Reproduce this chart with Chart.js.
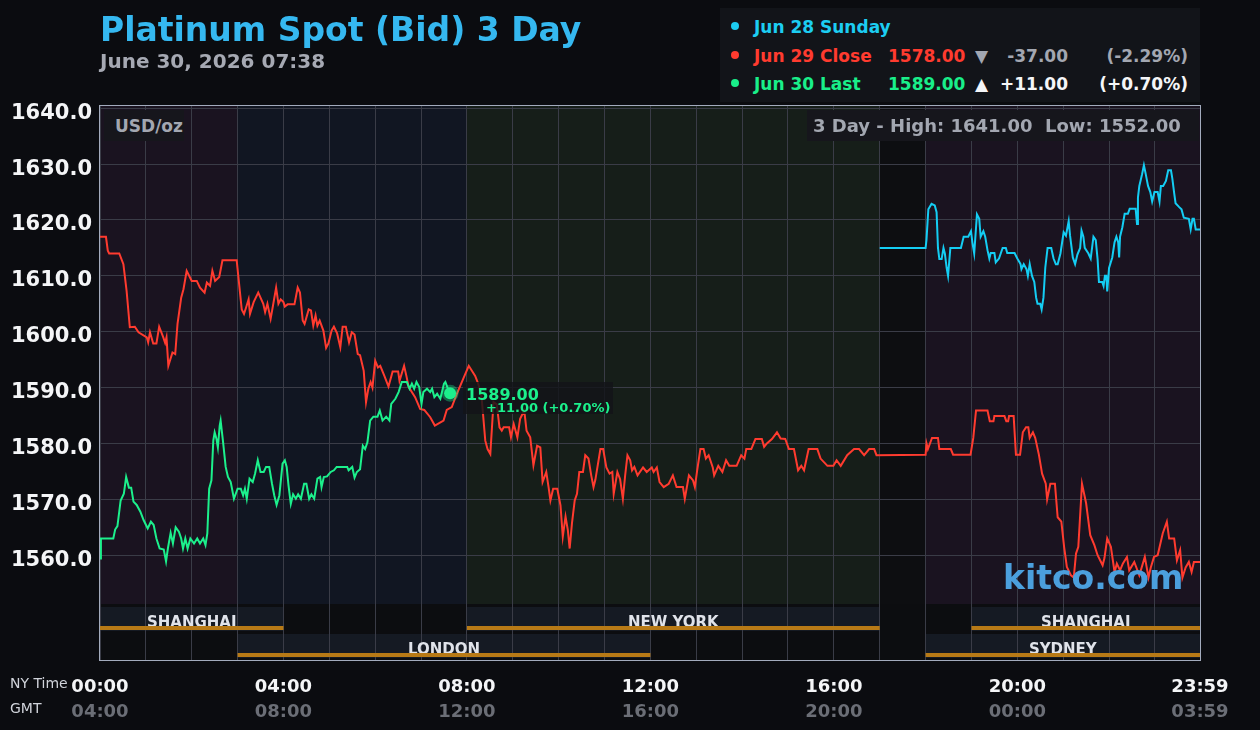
<!DOCTYPE html>
<html>
<head>
<meta charset="utf-8">
<title>Platinum Spot (Bid) 3 Day</title>
<script src="https://cdn.jsdelivr.net/npm/chart.js@4.4.1/dist/chart.umd.min.js"></script>
<style>
  html, body { margin: 0; padding: 0; background: #0b0c10; }
  body { width: 1260px; height: 730px; position: relative; overflow: hidden; font-family: "DejaVu Sans", sans-serif; }
  #chart { position: absolute; left: 0; top: 0; }
  .t { position: absolute; white-space: pre; font-weight: bold; line-height: 20px; }
  #title { left: 100px; top: 10px; font-size: 33px; line-height: 40px; color: #35b8f0; }
  #stamp { left: 100px; top: 49px; font-size: 20px; line-height: 24px; color: #a6a9b3; }
  #legend { position: absolute; left: 720px; top: 8px; width: 480px; height: 94px; background: #121419; }
  .dot { position: absolute; left: 731px; width: 8px; height: 8px; border-radius: 50%; }
  .lg { font-size: 17px; }
  .box { position: absolute; background: #16161c; }
  #unit { left: 104px; top: 110px; width: 80px; height: 31px; }
  #range { left: 807px; top: 110px; width: 392px; height: 31px; }
  .grey { color: #a3a7b1; }
  #kitco { left: 1003px; top: 558px; font-size: 33px; line-height: 40px; color: #4b9fdd; }
  .axisname { position: absolute; left: 10px; font-size: 14px; color: #d0d3da; line-height: 16px; }
  #last { position: absolute; width: 150px; height: 32px; background: rgba(18, 20, 24, 0.82); }
  #last .p { position: absolute; left: 3px; top: 3px; font-size: 16px; color: #1cf08c; }
  #last .c { position: absolute; left: 23px; top: 18px; font-size: 13px; line-height: 15px; color: #1cf08c; }
</style>
</head>
<body>
<canvas id="chart" width="1260" height="730"></canvas>

<div id="title" class="t">Platinum Spot (Bid) 3 Day</div>
<div id="stamp" class="t">June 30, 2026 07:38</div>

<div id="legend"></div>
<div class="dot" style="top:22px;background:#1ccdf2"></div>
<div class="t lg" style="left:754px;top:17px;color:#1ccdf2">Jun 28 Sunday</div>
<div class="dot" style="top:51px;background:#ff3b2f"></div>
<div class="t lg" style="left:754px;top:46px;color:#ff3b2f">Jun 29 Close</div>
<div class="t lg" style="left:888px;top:46px;color:#ff3b2f">1578.00</div>
<div class="t lg grey" style="left:975px;top:46px">▼</div>
<div class="t lg grey" style="right:192px;top:46px">-37.00</div>
<div class="t lg grey" style="right:72px;top:46px">(-2.29%)</div>
<div class="dot" style="top:79px;background:#19ef8a"></div>
<div class="t lg" style="left:754px;top:74px;color:#19ef8a">Jun 30 Last</div>
<div class="t lg" style="left:888px;top:74px;color:#19ef8a">1589.00</div>
<div class="t lg" style="left:975px;top:74px;color:#f5f6f8">▲</div>
<div class="t lg" style="right:192px;top:74px;color:#f5f6f8">+11.00</div>
<div class="t lg" style="right:72px;top:74px;color:#f5f6f8">(+0.70%)</div>

<div id="unit" class="box"></div>
<div class="t grey" style="left:115px;top:116px;font-size:17px">USD/oz</div>
<div id="range" class="box"></div>
<div class="t grey" style="left:813px;top:116px;font-size:18px">3 Day - High: 1641.00  Low: 1552.00</div>

<div id="kitco" class="t">kitco.com</div>

<div class="axisname" style="top:675px">NY Time</div>
<div class="axisname" style="top:700px">GMT</div>

<div id="last"><div class="t p">1589.00</div><div class="t c">+11.00 (+0.70%)</div></div>

<script>
// Jun 30 (today), hours after midnight NY time
const greenTimes = [0, 0.02, 0.29, 0.33, 0.38, 0.45, 0.52, 0.57, 0.63, 0.68, 0.73, 0.8, 0.88, 0.95, 1.04, 1.11, 1.17, 1.23, 1.3, 1.39,
  1.44, 1.48, 1.54, 1.59, 1.65, 1.72, 1.77, 1.81, 1.86, 1.91, 1.97, 2.05, 2.12, 2.18, 2.25, 2.3, 2.34, 2.38, 2.43, 2.47,
  2.5, 2.54, 2.57, 2.61, 2.63, 2.68, 2.74, 2.79, 2.85, 2.92, 3.0, 3.07, 3.12, 3.16, 3.2, 3.26, 3.33, 3.38, 3.44, 3.5,
  3.57, 3.62, 3.69, 3.75, 3.8, 3.85, 3.91, 3.98, 4.03, 4.07, 4.11, 4.16, 4.21, 4.27, 4.32, 4.38, 4.45, 4.5, 4.56, 4.61,
  4.67, 4.74, 4.8, 4.83, 4.88, 4.95, 5.03, 5.1, 5.16, 5.39, 5.42, 5.5, 5.55, 5.6, 5.67, 5.73, 5.78, 5.83, 5.89, 5.96,
  6.05, 6.1, 6.16, 6.24, 6.31, 6.35, 6.44, 6.51, 6.58, 6.69, 6.75, 6.8, 6.85, 6.9, 6.96, 7.01, 7.05, 7.13, 7.2, 7.24,
  7.29, 7.35, 7.42, 7.5, 7.53, 7.6, 7.633];
const greenValues = [1559.4, 1563, 1563, 1564.6, 1565.2, 1569.8, 1571, 1574, 1572.1, 1572.1, 1569.6, 1569, 1567.8, 1566.3, 1564.8, 1566, 1565.4, 1563, 1561.2, 1561,
  1558.9, 1561.2, 1564, 1562.1, 1565, 1564.2, 1563, 1561.2, 1563, 1561.2, 1563, 1562.1, 1563, 1562.1, 1563, 1561.8, 1563.9, 1571.9, 1573.4, 1580.5,
  1582, 1580.8, 1579.3, 1583.2, 1584.1, 1580.5, 1575.8, 1574, 1573.1, 1570.1, 1571.9, 1571.9, 1570.7, 1571.9, 1570.1, 1573.7, 1573.1, 1574.6, 1577, 1574.9,
  1574.9, 1575.8, 1575.8, 1572.8, 1570.7, 1569, 1570.7, 1576.4, 1577, 1575.8, 1572.5, 1569.2, 1570.9, 1570.1, 1570.9, 1570.1, 1572.8, 1572.8, 1570.1, 1570.9,
  1570.1, 1573.7, 1574, 1572.2, 1574, 1574.1, 1574.9, 1575.2, 1575.8, 1575.8, 1575.2, 1575.8, 1573.9, 1574.9, 1575.4, 1579.6, 1579, 1580.2, 1584.1, 1584.8,
  1584.8, 1585.9, 1584.1, 1584.8, 1584.1, 1587.1, 1588, 1589.2, 1591, 1591, 1589.8, 1590.7, 1589.8, 1591, 1590.1, 1587.1, 1589.2, 1589.8, 1589.2, 1589.8,
  1588.3, 1588.9, 1588, 1590.7, 1591, 1589.5, 1589];

// Jun 29
const redTimes = [0, 0.13, 0.17, 0.2, 0.42, 0.51, 0.58, 0.65, 0.76, 0.84, 1.02, 1.05, 1.09, 1.16, 1.23, 1.29, 1.38, 1.42, 1.45, 1.49,
  1.58, 1.64, 1.69, 1.77, 1.82, 1.89, 2.0, 2.11, 2.18, 2.28, 2.33, 2.4, 2.45, 2.51, 2.6, 2.67, 2.98, 3.03, 3.09, 3.14,
  3.18, 3.24, 3.27, 3.35, 3.45, 3.56, 3.6, 3.65, 3.72, 3.77, 3.84, 3.89, 3.94, 4.0, 4.03, 4.09, 4.24, 4.31, 4.36, 4.42,
  4.46, 4.55, 4.6, 4.65, 4.7, 4.74, 4.79, 4.87, 4.93, 4.98, 5.05, 5.1, 5.17, 5.24, 5.29, 5.36, 5.43, 5.49, 5.55, 5.62,
  5.67, 5.75, 5.8, 5.85, 5.9, 5.94, 6.0, 6.06, 6.11, 6.2, 6.29, 6.38, 6.5, 6.53, 6.63, 6.68, 6.73, 6.87, 6.98, 7.07,
  7.2, 7.3, 7.49, 7.56, 7.67, 7.78, 7.93, 8.04, 8.18, 8.25, 8.32, 8.4, 8.45, 8.51, 8.58, 8.65, 8.71, 8.76, 8.8, 8.92,
  8.96, 9.02, 9.1, 9.16, 9.25, 9.3, 9.38, 9.45, 9.53, 9.6, 9.65, 9.73, 9.78, 9.82, 9.88, 9.97, 10.04, 10.09, 10.15, 10.2,
  10.24, 10.29, 10.35, 10.4, 10.45, 10.53, 10.58, 10.65, 10.71, 10.76, 10.8, 10.91, 10.97, 11.04, 11.11, 11.17, 11.2, 11.28, 11.34, 11.4,
  11.45, 11.5, 11.56, 11.6, 11.65, 11.72, 11.84, 11.92, 12.03, 12.07, 12.14, 12.2, 12.29, 12.4, 12.49, 12.57, 12.71, 12.75, 12.84, 12.93,
  12.97, 13.02, 13.09, 13.16, 13.21, 13.27, 13.36, 13.39, 13.48, 13.57, 13.65, 13.72, 13.88, 13.98, 14.05, 14.09, 14.2, 14.29, 14.43, 14.48,
  14.54, 14.65, 14.76, 14.84, 14.94, 15.02, 15.13, 15.22, 15.29, 15.35, 15.45, 15.64, 15.71, 15.86, 15.99, 16.06, 16.15, 16.29, 16.44, 16.55,
  16.66, 16.77, 16.88, 16.93, 18.0, 18.02, 18.05, 18.14, 18.27, 18.3, 18.55, 18.6, 18.98, 19.04, 19.1, 19.35, 19.4, 19.48, 19.5, 19.72,
  19.76, 19.8, 19.82, 19.92, 19.97, 20.06, 20.12, 20.19, 20.24, 20.27, 20.34, 20.39, 20.47, 20.54, 20.62, 20.65, 20.72, 20.82, 20.88, 20.96,
  21.02, 21.08, 21.17, 21.23, 21.28, 21.33, 21.41, 21.5, 21.59, 21.68, 21.75, 21.86, 21.9, 21.96, 22.04, 22.12, 22.17, 22.24, 22.3, 22.39,
  22.44, 22.55, 22.66, 22.78, 22.86, 22.91, 22.98, 23.06, 23.17, 23.26, 23.31, 23.42, 23.48, 23.55, 23.6, 23.67, 23.74, 23.8, 23.85, 23.983];
const redValues = [1617, 1617, 1614.5, 1614, 1614, 1612.1, 1607.3, 1600.8, 1600.9, 1599.9, 1599, 1598.1, 1599.9, 1597.9, 1597.9, 1600.9, 1599, 1598, 1599, 1593.9,
  1596.3, 1596, 1601.4, 1606.1, 1607.6, 1610.9, 1609.1, 1609.1, 1607.9, 1607, 1608.8, 1608.2, 1610.9, 1609.1, 1609.8, 1612.8, 1612.8, 1608.8, 1604, 1603.2,
  1604.2, 1605.8, 1603.2, 1605.3, 1607, 1605, 1603.5, 1605, 1602.3, 1604.6, 1607.9, 1605, 1605.8, 1605.3, 1604.5, 1604.9, 1604.9, 1607.9, 1607, 1602,
  1601.4, 1604, 1603.8, 1601.1, 1602.9, 1601.1, 1602, 1600.2, 1597.1, 1597.9, 1600.2, 1600.9, 1599.7, 1597.2, 1600.9, 1600.9, 1598.1, 1599.9, 1599.5, 1596,
  1595.8, 1593, 1587.4, 1589.8, 1591, 1590, 1594.8, 1593.6, 1593.9, 1592.1, 1590.2, 1592.9, 1592.9, 1591.2, 1593.9, 1592.1, 1590.1, 1588.3, 1586.2, 1586,
  1584.7, 1583.2, 1584.1, 1586, 1586.5, 1588.9, 1591.8, 1593.9, 1592.1, 1590.6, 1588.3, 1580.5, 1579, 1578.1, 1587.4, 1587, 1582.9, 1582.3, 1582.9, 1582.9,
  1581.1, 1583.5, 1581.1, 1584.4, 1585.9, 1582.3, 1581.1, 1576.1, 1579.6, 1579.3, 1573.1, 1574.9, 1572.2, 1569.8, 1571.9, 1571.9, 1568.9, 1563.3, 1566.9, 1564.5,
  1561.2, 1565.7, 1569.8, 1571, 1574.9, 1574.9, 1577.9, 1577.3, 1574.3, 1572.2, 1573.5, 1579, 1579, 1575.7, 1574.6, 1574.9, 1571, 1574.9, 1573.6, 1570.1,
  1574.3, 1577.9, 1577, 1575.2, 1575.8, 1574.3, 1575.7, 1574.9, 1575.7, 1574.9, 1575.7, 1573.1, 1572.2, 1572.8, 1574.3, 1572.2, 1572.2, 1570.1, 1574.3, 1573.4,
  1572.2, 1575.2, 1579, 1579, 1577.3, 1577.9, 1575.7, 1574.3, 1576, 1574.9, 1577, 1576, 1576, 1577.9, 1577.3, 1579, 1579, 1580.8, 1580.8, 1579.4,
  1580, 1580.8, 1582, 1580.9, 1580.8, 1579, 1579, 1575.2, 1576, 1575.2, 1579, 1579, 1577.3, 1576, 1576, 1577, 1576, 1577.9, 1579, 1579,
  1577.9, 1579, 1579, 1577.9, 1578, 1580, 1579, 1581, 1581, 1579, 1579, 1578, 1578, 1581, 1585.9, 1585.9, 1584, 1584, 1584.9, 1584.9,
  1584, 1584, 1584.9, 1584.9, 1578, 1578, 1582, 1582.9, 1582.9, 1581, 1582, 1581, 1578, 1574.6, 1572.8, 1570, 1572.8, 1572.8, 1566.8, 1566,
  1561.5, 1557.9, 1556.4, 1556, 1560.3, 1561.5, 1572.8, 1569.3, 1563.6, 1561.8, 1560, 1558.2, 1559.5, 1563, 1561.5, 1557, 1558.5, 1557.3, 1558.5, 1559.7,
  1557.3, 1558.8, 1556.4, 1559.7, 1556, 1557.8, 1559.7, 1560, 1563.9, 1566, 1563, 1563, 1559.1, 1560.9, 1556, 1557.8, 1558.8, 1557, 1558.8, 1558.8];

// Jun 28 Sunday evening
const blueTimes = [17.0, 18.0, 18.02, 18.06, 18.13, 18.2, 18.24, 18.27, 18.3, 18.35, 18.39, 18.42, 18.46, 18.49, 18.54, 18.77, 18.83, 18.93, 18.99, 19.02,
  19.06, 19.12, 19.17, 19.2, 19.26, 19.3, 19.35, 19.39, 19.42, 19.5, 19.53, 19.6, 19.68, 19.75, 19.78, 19.94, 20.0, 20.07, 20.09, 20.14,
  20.2, 20.23, 20.27, 20.32, 20.37, 20.41, 20.44, 20.5, 20.53, 20.57, 20.61, 20.66, 20.74, 20.79, 20.84, 20.88, 20.94, 21.01, 21.06, 21.12,
  21.15, 21.21, 21.26, 21.31, 21.37, 21.4, 21.44, 21.47, 21.55, 21.6, 21.66, 21.71, 21.75, 21.78, 21.85, 21.88, 21.91, 21.94, 21.96, 22.0,
  22.07, 22.12, 22.16, 22.2, 22.22, 22.24, 22.29, 22.34, 22.41, 22.45, 22.58, 22.61, 22.63, 22.66, 22.72, 22.76, 22.8, 22.85, 22.9, 22.94,
  22.99, 23.06, 23.1, 23.13, 23.18, 23.24, 23.29, 23.35, 23.38, 23.42, 23.45, 23.53, 23.58, 23.63, 23.74, 23.78, 23.82, 23.85, 23.89, 23.983];
const blueValues = [1615, 1615, 1616.5, 1621.9, 1622.9, 1622.6, 1621.4, 1615, 1613, 1613, 1615, 1614, 1611.4, 1610, 1615, 1615, 1617, 1617, 1618, 1616,
  1614, 1621, 1620.2, 1617, 1618, 1617, 1614.6, 1613.1, 1614.1, 1614.1, 1612.4, 1613.1, 1615, 1615, 1614.1, 1614.1, 1613.1, 1612.1, 1611.2, 1612.1,
  1611.2, 1610, 1612.1, 1610, 1608.9, 1606.1, 1605, 1605, 1604, 1606.1, 1611.5, 1615, 1615, 1613.1, 1612.1, 1612.1, 1614, 1617.8, 1617.2, 1619.8,
  1617.2, 1613.3, 1612.1, 1613.8, 1615, 1618.1, 1617, 1615, 1614, 1613.1, 1617, 1616.4, 1613, 1608.9, 1608.9, 1608.2, 1610, 1610, 1607.2, 1611.4,
  1613.3, 1616, 1617, 1616, 1613.3, 1617, 1618.7, 1621.1, 1621.1, 1622, 1622, 1619.3, 1624, 1626.1, 1628.2, 1629.8, 1628.2, 1626.1, 1625, 1623.3,
  1625, 1625, 1623.3, 1626.1, 1626.1, 1627, 1628.9, 1628.9, 1627.4, 1624.8, 1623, 1622.3, 1621.9, 1620.4, 1620.2, 1618.3, 1620.2, 1620.2, 1618.3, 1618.3];

const labelHours = [0, 4, 8, 12, 16, 20, 23.983];
const nyLabels = ['00:00', '04:00', '08:00', '12:00', '16:00', '20:00', '23:59'];
const gmtLabels = ['04:00', '08:00', '12:00', '16:00', '20:00', '00:00', '03:59'];
const priceTicks = [1560, 1570, 1580, 1590, 1600, 1610, 1620, 1630, 1640];

// trading sessions shown under the plot
const sessionNames = ['SHANGHAI', 'LONDON', 'NEW YORK', 'SHANGHAI', 'SYDNEY'];
const sessionStart = [0, 3, 8, 19, 18];
const sessionEnd = [4, 12, 17, 23.983, 23.983];
const sessionRow = [0, 1, 0, 0, 1];

// background tints by market hours
const zoneStart = [0, 3, 8, 17, 18];
const zoneEnd = [3, 8, 17, 18, 23.983];
const zoneColors = ['#1a1320', '#111622', '#161e19', '#0d0e11', '#1a1320'];

const GRID = '#3a3c47';
const hourGrid = [];
for (let h = 0; h < 24; h++) hourGrid.push(h);
hourGrid.push(23.983);

function points(times, values) {
  return times.map((t, i) => ({ x: t, y: values[i] }));
}

const marketPlugin = {
  id: 'market',
  beforeDraw(chart) {
    const { ctx, chartArea: a, scales: { x } } = chart;
    const split = a.bottom - 56;
    ctx.save();
    zoneStart.forEach((s, i) => {
      const x0 = x.getPixelForValue(s), x1 = x.getPixelForValue(zoneEnd[i]);
      ctx.fillStyle = zoneColors[i];
      ctx.fillRect(x0, a.top, x1 - x0, split - a.top);
    });
    ctx.fillStyle = '#0c0d10';
    ctx.fillRect(a.left, split, a.width, a.bottom - split);
    sessionNames.forEach((n, i) => {
      const x0 = x.getPixelForValue(sessionStart[i]), x1 = x.getPixelForValue(sessionEnd[i]);
      ctx.fillStyle = '#151a23';
      ctx.fillRect(x0, split + 3 + sessionRow[i] * 27, x1 - x0, 24);
    });
    ctx.restore();
  },
  beforeDatasetsDraw(chart) {
    const { ctx, chartArea: a, scales: { x } } = chart;
    const split = a.bottom - 56;
    ctx.save();
    ctx.font = 'bold 15px "DejaVu Sans"';
    ctx.textAlign = 'center';
    ctx.textBaseline = 'alphabetic';
    sessionNames.forEach((n, i) => {
      const x0 = x.getPixelForValue(sessionStart[i]), x1 = x.getPixelForValue(sessionEnd[i]);
      const top = split + 3 + sessionRow[i] * 27;
      ctx.fillStyle = '#e0e3ea';
      ctx.fillText(n, (x0 + x1) / 2, top + 20);
      ctx.fillStyle = '#b87a16';
      ctx.fillRect(x0, top + 19, x1 - x0, 4);
    });
    ctx.restore();
  },
  afterDraw(chart) {
    const { ctx, chartArea: a } = chart;
    ctx.save();
    ctx.strokeStyle = '#a3abbd';
    ctx.lineWidth = 1;
    ctx.strokeRect(a.left - 0.5, a.top - 0.5, a.width + 1, a.height + 1);
    ctx.restore();
    // price tag next to the latest point
    const pts = chart.getDatasetMeta(0).data;
    const p = pts[pts.length - 1];
    const tag = document.getElementById('last');
    tag.style.left = Math.round(p.x + 13) + 'px';
    tag.style.top = Math.round(p.y - 11) + 'px';
  }
};

new Chart(document.getElementById('chart'), {
  type: 'line',
  data: {
    datasets: [
      {
        label: 'Jun 30 Last',
        data: points(greenTimes, greenValues),
        borderColor: '#1cf08c',
        borderWidth: 2,
        pointRadius: c => c.dataIndex === greenTimes.length - 1 ? 6 : 0,
        pointBackgroundColor: '#1cf08c',
        pointBorderColor: 'rgba(28, 240, 140, 0.35)',
        pointBorderWidth: 5,
        order: 1
      },
      {
        label: 'Jun 29 Close',
        data: points(redTimes, redValues),
        borderColor: '#ff3b2f',
        borderWidth: 2,
        pointRadius: 0,
        order: 2
      },
      {
        label: 'Jun 28 Sunday',
        data: points(blueTimes, blueValues),
        borderColor: '#14cdf3',
        borderWidth: 2,
        pointRadius: 0,
        order: 3
      }
    ]
  },
  options: {
    responsive: false,
    animation: false,
    devicePixelRatio: 1,
    events: [],
    tension: 0,
    layout: { padding: { top: 106, right: 60, bottom: 8, left: 0 } },
    plugins: { legend: { display: false }, tooltip: { enabled: false } },
    scales: {
      x: {
        type: 'linear',
        min: 0,
        max: 23.983,
        weight: 1,
        afterBuildTicks: s => { s.ticks = hourGrid.map(v => ({ value: v })); },
        afterFit: s => { s.height = 37; },
        grid: { color: GRID, drawTicks: false },
        border: { display: false },
        ticks: {
          autoSkip: false,
          maxRotation: 0,
          padding: 17,
          color: '#f4f5f7',
          font: { family: 'DejaVu Sans', size: 18, weight: 'bold' },
          callback: v => { const i = labelHours.indexOf(v); return i >= 0 ? nyLabels[i] : ''; }
        }
      },
      x2: {
        type: 'linear',
        position: 'bottom',
        min: 0,
        max: 23.983,
        weight: 2,
        afterBuildTicks: s => { s.ticks = labelHours.map(v => ({ value: v })); },
        afterFit: s => { s.height = 25; },
        grid: { display: false, drawTicks: false },
        border: { display: false },
        ticks: {
          autoSkip: false,
          maxRotation: 0,
          padding: 5,
          color: '#6b6e76',
          font: { family: 'DejaVu Sans', size: 18, weight: 'bold' },
          callback: v => { const i = labelHours.indexOf(v); return i >= 0 ? gmtLabels[i] : ''; }
        }
      },
      y: {
        min: 1541.25,
        max: 1640.4,
        afterBuildTicks: s => { s.ticks = priceTicks.map(v => ({ value: v })); },
        afterFit: s => { s.width = 100; },
        grid: { color: GRID, drawTicks: false },
        border: { display: false },
        ticks: {
          padding: 8,
          labelOffset: 5,
          color: '#f4f5f7',
          font: { family: 'DejaVu Sans', size: 21, weight: 'bold' },
          callback: v => v.toFixed(1)
        }
      }
    }
  },
  plugins: [marketPlugin]
});
</script>
</body>
</html>
